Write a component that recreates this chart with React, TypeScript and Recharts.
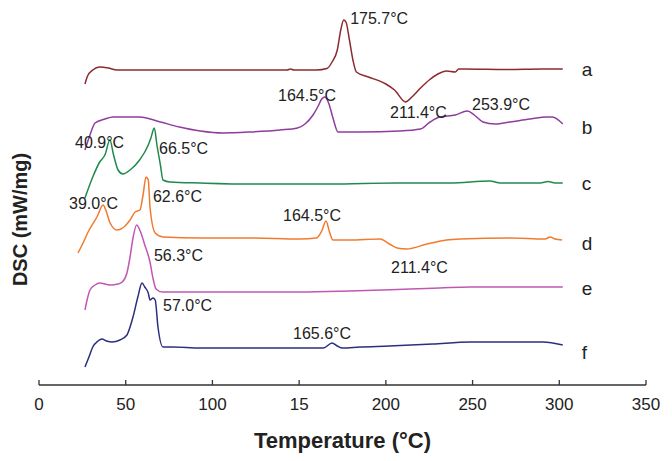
import { Line, LineChart, ReferenceDot, XAxis, YAxis } from 'recharts';

// [temperature °C, DSC offset (arbitrary units, curves stacked)]
const curveA: [number, number][] = [
  [26.5, 301], [28, 309], [31, 315], [35, 318], [40, 317], [45, 315], [80, 315],
  [120, 315], [143, 315], [145, 316], [147, 315], [160, 315], [166, 316.5],
  [169, 323], [172, 335], [174, 355], [175.7, 365], [177, 363], [179, 345],
  [181, 325], [183, 313], [190, 308], [200, 301], [205, 295], [211.4, 283],
  [215, 288], [220, 297], [225, 305], [230, 311], [235, 314], [240, 313],
  [242, 316], [245, 316], [270, 315.5], [290, 316], [302, 316],
];

const curveB: [number, number][] = [
  [26.5, 235], [29.4, 250], [32.3, 262], [38, 266], [42.7, 268], [58, 268],
  [70, 263], [81, 258], [93, 254], [106, 252], [122, 253], [139, 255],
  [149, 257], [153.4, 261], [158, 270], [161, 279], [163, 286], [164.9, 288],
  [167, 282], [169.5, 267], [172.4, 253], [185, 253], [208, 254], [220, 256],
  [225.5, 263], [231, 268], [240, 270], [247, 274], [251, 270], [256, 263],
  [263, 261], [271.6, 263], [283, 266], [293, 268], [296, 268], [302, 261],
];

const curveC: [number, number][] = [
  [26.5, 187], [31, 208], [35, 223], [38, 230], [40.9, 245], [43, 230],
  [45.6, 215], [48.4, 211], [52.5, 215], [58, 225], [63, 240], [64.5, 247],
  [66.5, 257], [68, 240], [70, 220], [71.5, 205], [75.5, 203], [93, 202],
  [122, 201], [168, 201], [206, 202], [237, 202], [260, 204], [266, 202],
  [289, 202], [293.5, 203.5], [297.6, 202], [302, 202],
];

const curveD: [number, number][] = [
  [22.5, 132], [25.4, 142], [28.3, 153], [33.4, 168], [37, 180], [38.5, 175],
  [41, 162], [45, 155], [49.6, 159], [52.5, 165], [55.4, 173], [58.2, 175],
  [60, 190], [61.7, 208], [63, 205], [64, 178], [67, 152], [71.5, 148],
  [93, 147], [122, 147], [150.5, 146], [160, 147], [163, 154], [165.5, 164],
  [167.5, 153], [169.5, 145], [179, 145], [196.7, 146], [202, 141],
  [206.5, 137], [212, 136], [223.8, 141], [235, 145], [243, 146],
  [271.6, 147], [291.8, 146], [294.7, 148], [297.6, 146], [301.6, 145],
];

const curveE: [number, number][] = [
  [26.5, 75], [28, 87], [29.4, 95], [32.3, 100], [35, 102], [41, 100],
  [45.6, 101], [48, 103], [50.7, 112], [52.5, 128], [54.2, 147], [56.3, 160],
  [58.8, 152], [61, 140], [64, 123], [65.7, 107], [67.5, 96], [71, 93],
  [93, 93], [150.5, 93], [179, 94], [214, 96], [231, 97], [248.6, 98], [302, 98],
];

const curveF: [number, number][] = [
  [26.5, 18], [28.8, 28], [31, 38], [34, 44], [36.3, 46], [39, 44], [42, 43],
  [46.7, 45], [50.7, 50], [52.5, 58], [54.2, 68], [57, 88], [59.4, 102],
  [61, 98], [63, 92], [64, 85], [65.7, 87], [67, 85], [68.6, 58], [71.5, 38],
  [77, 38], [93, 37], [110, 37], [149, 37], [164, 37], [169, 42], [172, 39],
  [175, 37], [185, 38], [202, 39], [227, 41], [248.6, 43], [290.6, 43], [302, 40],
];

const curveNames = ['a', 'b', 'c', 'd', 'e', 'f'];
const curveColors = ['#8c2a30', '#8e3d9c', '#1f8a4c', '#f27a2e', '#c058b2', '#2c2f7c'];
const curveLabelPos: [number, number][] = [
  [313, 316], [313, 258], [313, 202], [313, 142], [313, 97], [313, 33],
];

const xTicks = [0, 50, 100, 150, 200, 250, 300, 350];
const xTickLabels = ['0', '50', '100', '15', '200', '250', '300', '350'];

// peak annotations: [temperature, offset, text]
const peakNotes: [number, number, string][] = [
  [179.4, 367, '175.7°C'],
  [202.4, 273, '211.4°C'],
  [249.7, 281, '253.9°C'],
  [137.8, 290, '164.5°C'],
  [20.8, 243, '40.9°C'],
  [69.2, 237, '66.5°C'],
  [17.3, 182, '39.0°C'],
  [65.7, 189, '62.6°C'],
  [140.7, 170, '164.5°C'],
  [203, 118, '211.4°C'],
  [66.3, 130, '56.3°C'],
  [71.5, 80, '57.0°C'],
  [146.5, 52, '165.6°C'],
];

const curves = [curveA, curveB, curveC, curveD, curveE, curveF];
const font = '"Liberation Sans", Arial, sans-serif';

function XTick({ x, y, payload }: { x?: number; y?: number; payload?: { value: number; index: number } }) {
  if (x == null || y == null || !payload) return null;
  const i = xTicks.indexOf(payload.value);
  return (
    <g>
      <line x1={x} x2={x} y1={y} y2={y - 5} stroke="#333" strokeWidth={1.3} />
      <text x={x} y={y + 25} textAnchor="middle" fontSize={17} fill="#222" fontFamily={font}>
        {xTickLabels[i]}
      </text>
    </g>
  );
}

function noteText(text: string, size: number) {
  return (props: any) => {
    const vb = props.viewBox || {};
    const cx = (vb.x ?? 0) + (vb.width ?? 0) / 2;
    const cy = (vb.y ?? 0) + (vb.height ?? 0) / 2;
    return (
      <text x={cx} y={cy} dy="0.35em" textAnchor="start" fontSize={size} fill="#222" fontFamily={font}>
        {text}
      </text>
    );
  };
}

function YTitle(props: any) {
  const vb = props.viewBox || {};
  const cx = (vb.x ?? 0) + 20;
  const cy = (vb.y ?? 0) + (vb.height ?? 0) * 0.57;
  return (
    <text
      x={cx}
      y={cy}
      dy="0.35em"
      textAnchor="middle"
      transform={`rotate(-90, ${cx}, ${cy})`}
      fontSize={20}
      fontWeight="bold"
      fill="#222"
      fontFamily={font}
    >
      DSC (mW/mg)
    </text>
  );
}

export default function App() {
  return (
    <div style={{ position: 'absolute', left: 0, top: 0, background: '#fff' }}>
      <LineChart width={672} height={461} margin={{ top: 0, right: 26, bottom: 0, left: 0 }}>
        <XAxis
          type="number"
          dataKey="t"
          domain={[0, 350]}
          ticks={xTicks}
          allowDataOverflow
          height={76}
          stroke="#333"
          strokeWidth={1.3}
          tickLine={false}
          tickSize={0}
          tickMargin={0}
          tick={<XTick />}
          label={{
            value: 'Temperature (°C)',
            position: 'insideBottom',
            offset: 13,
            style: { fontSize: 22, fontWeight: 'bold', fill: '#222', fontFamily: font },
          }}
        />
        <YAxis
          type="number"
          dataKey="v"
          domain={[0, 385]}
          width={39}
          axisLine={false}
          tickLine={false}
          tick={false}
          label={YTitle}
        />
        {curves.map((c, i) => (
          <Line
            key={curveNames[i]}
            data={c.map(([t, v]) => ({ t, v }))}
            dataKey="v"
            type="monotone"
            stroke={curveColors[i]}
            strokeWidth={1.5}
            dot={false}
            isAnimationActive={false}
          />
        ))}
        {peakNotes.map(([t, v, text], i) => (
          <ReferenceDot key={`n${i}`} x={t} y={v} r={1} fill="none" stroke="none" label={noteText(text, 16)} />
        ))}
        {curveLabelPos.map(([t, v], i) => (
          <ReferenceDot
            key={`l${i}`}
            x={t}
            y={v}
            r={1}
            fill="none"
            stroke="none"
            label={noteText(curveNames[i], 19)}
          />
        ))}
      </LineChart>
    </div>
  );
}
